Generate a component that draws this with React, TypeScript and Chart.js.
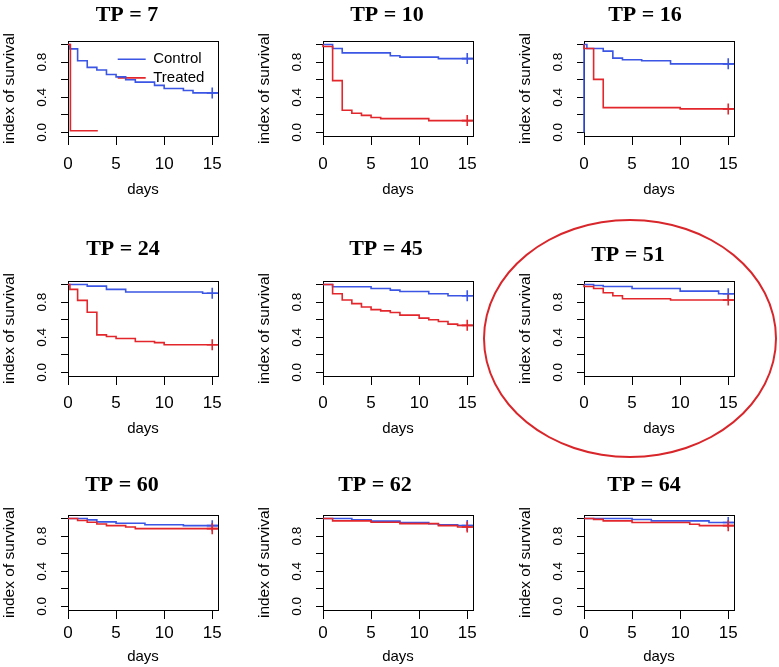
import React, { useEffect, useRef } from "react";
import { Chart, registerables } from "chart.js";

Chart.register(...registerables);

// ---------- data ----------
const PANEL_TITLES = ["TP = 7", "TP = 10", "TP = 16", "TP = 24", "TP = 45", "TP = 51", "TP = 60", "TP = 62", "TP = 64"];
const SERIES_NAMES = ["Control", "Treated"];
const X_TICKS = [0, 5, 10, 15];
const X_TICK_LABELS = ["0", "5", "10", "15"];
const Y_TICKS = [0, 0.2, 0.4, 0.6, 0.8, 1.0];
const Y_TICK_LABELS = ["0.0", "", "0.4", "", "0.8", ""];
const X_LABEL = "days";
const Y_LABEL = "index of survival";
const CENSOR_DAY = 15;

const tp7CtrlDays = [0, 0.2, 1, 2, 3, 4, 5, 6, 7, 9, 10, 12, 13, 15, 16];
const tp7CtrlSurv = [1, 0.95, 0.815, 0.74, 0.71, 0.66, 0.632, 0.6, 0.572, 0.535, 0.5, 0.478, 0.45, 0.45, 0.45];
const tp7TrtDays = [0, 0.25, 3.1];
const tp7TrtSurv = [1, 0.02, 0.02];

const tp10CtrlDays = [0, 1, 2, 7, 8, 12, 15, 16];
const tp10CtrlSurv = [1, 0.955, 0.905, 0.872, 0.857, 0.84, 0.84, 0.84];
const tp10TrtDays = [0, 0, 1, 2, 3, 4, 5, 6, 11, 15, 16];
const tp10TrtSurv = [1, 0.977, 0.59, 0.252, 0.218, 0.195, 0.17, 0.158, 0.135, 0.135, 0.135];

const tp16CtrlDays = [0, 0, 0.3, 2, 3, 4, 6, 9, 15, 16];
const tp16CtrlSurv = [0, 1, 0.955, 0.925, 0.845, 0.826, 0.815, 0.78, 0.78, 0.78];
const tp16TrtDays = [0, 0, 1, 2, 10, 15, 16];
const tp16TrtSurv = [1, 0.955, 0.604, 0.283, 0.268, 0.268, 0.268];

const tp24CtrlDays = [0, 2, 4, 6, 14, 15, 16];
const tp24CtrlSurv = [1, 0.982, 0.945, 0.915, 0.9, 0.9, 0.9];
const tp24TrtDays = [0, 0.2, 1, 2, 3, 4, 5, 7, 9, 10, 15, 16];
const tp24TrtSurv = [1, 0.945, 0.82, 0.685, 0.428, 0.409, 0.387, 0.353, 0.339, 0.316, 0.316, 0.316];

const tp45CtrlDays = [0, 1, 5, 7, 8, 11, 13, 15, 16];
const tp45CtrlSurv = [1, 0.974, 0.955, 0.936, 0.921, 0.895, 0.873, 0.873, 0.873];
const tp45TrtDays = [0, 1, 2, 3, 4, 5, 6, 7, 8, 10, 11, 12, 13, 14, 15, 16];
const tp45TrtSurv = [1, 0.895, 0.824, 0.783, 0.745, 0.715, 0.7, 0.682, 0.652, 0.618, 0.6, 0.58, 0.55, 0.536, 0.536, 0.536];

const tp51CtrlDays = [0, 1, 2, 5, 10, 14, 15, 16];
const tp51CtrlSurv = [1, 0.989, 0.978, 0.955, 0.925, 0.895, 0.895, 0.895];
const tp51TrtDays = [0, 0, 1, 2, 3, 4, 9, 15, 16];
const tp51TrtSurv = [1, 0.978, 0.955, 0.906, 0.873, 0.839, 0.824, 0.824, 0.824];

const tp60CtrlDays = [0, 2, 3, 5, 8, 12, 15, 16];
const tp60CtrlSurv = [1, 0.985, 0.962, 0.946, 0.93, 0.919, 0.919, 0.919];
const tp60TrtDays = [0, 1, 2, 3, 4, 6, 7, 15, 16];
const tp60TrtSurv = [1, 0.977, 0.958, 0.938, 0.919, 0.904, 0.885, 0.885, 0.885];

const tp62CtrlDays = [0, 3, 5, 8, 11, 12, 14, 15, 16];
const tp62CtrlSurv = [1, 0.985, 0.97, 0.955, 0.94, 0.93, 0.92, 0.92, 0.92];
const tp62TrtDays = [0, 1, 5, 8, 12, 14, 15, 16];
const tp62TrtSurv = [1, 0.973, 0.958, 0.942, 0.919, 0.904, 0.904, 0.904];

const tp64CtrlDays = [0, 5, 7, 13, 15, 16];
const tp64CtrlSurv = [1, 0.988, 0.973, 0.954, 0.954, 0.954];
const tp64TrtDays = [0, 1, 2, 5, 11, 12, 15, 16];
const tp64TrtSurv = [1, 0.99, 0.973, 0.954, 0.935, 0.919, 0.919, 0.919];

const CTRL_DAYS = [tp7CtrlDays, tp10CtrlDays, tp16CtrlDays, tp24CtrlDays, tp45CtrlDays, tp51CtrlDays, tp60CtrlDays, tp62CtrlDays, tp64CtrlDays];
const CTRL_SURV = [tp7CtrlSurv, tp10CtrlSurv, tp16CtrlSurv, tp24CtrlSurv, tp45CtrlSurv, tp51CtrlSurv, tp60CtrlSurv, tp62CtrlSurv, tp64CtrlSurv];
const TRT_DAYS = [tp7TrtDays, tp10TrtDays, tp16TrtDays, tp24TrtDays, tp45TrtDays, tp51TrtDays, tp60TrtDays, tp62TrtDays, tp64TrtDays];
const TRT_SURV = [tp7TrtSurv, tp10TrtSurv, tp16TrtSurv, tp24TrtSurv, tp45TrtSurv, tp51TrtSurv, tp60TrtSurv, tp62TrtSurv, tp64TrtSurv];

// ---------- layout / style ----------
const BLUE = "#3b55e4";
const RED = "#e2262b";
const SANS = "'Liberation Sans', Arial, sans-serif";
const SERIF = "'Liberation Serif', 'Times New Roman', serif";
const X_MIN = 0;
const X_MAX = 15.6;
const Y_MIN = -0.04;
const Y_MAX = 1.04;

const BOX_OFFSET_X = 68;
const BOX_OFFSET_Y = 50;
const BOX_W = 150;
const BOX_H = 95;
const X_AXIS_H = 63;
const CANVAS_H = BOX_OFFSET_Y + BOX_H + X_AXIS_H;
const TITLE_SIZE = 22;
const TITLE_LH = 1.2;
const X_TICK_SIZE = 17;
const X_TICK_LEN = 9;
const X_TITLE_SIZE = 15;

const CANVAS_LEFT = [0, 255, 516, 0, 255, 516, 0, 255, 516];
const CANVAS_TOP = [-9, -9, -9, 231, 231, 231, 465, 465, 465];
const TITLE_X = [127, 387, 645, 123, 386, 628, 122, 375, 644];
const TITLE_Y = [15, 15, 15, 249, 249, 255, 485, 485, 485];
// distance below plot box of tick-label centre and of axis-title centre, per panel
const X_LABEL_OFFSET = [28.5, 28.5, 28.5, 27.3, 27.3, 27.3, 23.3, 23.3, 23.3];
const X_TITLE_OFFSET = [54, 54, 54, 53.3, 53.3, 53.3, 47, 47, 47];

const LEGEND_DX = 46;
const LEGEND_DY = 7;

const plotBox = {
  id: "plotBox",
  beforeDatasetsDraw(chart: any) {
    const { ctx, chartArea: a } = chart;
    ctx.save();
    ctx.strokeStyle = "#000";
    ctx.lineWidth = 1;
    ctx.strokeRect(Math.round(a.left) + 0.5, Math.round(a.top) + 0.5, Math.round(a.right - a.left), Math.round(a.bottom - a.top));
    ctx.restore();
  },
};

const legendShift = {
  id: "legendShift",
  afterLayout(chart: any) {
    const lg = chart.legend;
    if (!lg) return;
    const a = chart.chartArea;
    const w = lg.width;
    const h = lg.height;
    lg.left = a.left + LEGEND_DX;
    lg.right = lg.left + w;
    lg.top = a.top + LEGEND_DY;
    lg.bottom = lg.top + h;
    // draw the legend above the curves, as R does
    lg._layers = () => [{ z: 1, draw: (ca: any) => lg.draw(ca) }];
  },
};

function makeSeries(label: string, days: number[], surv: number[], color: string, order: number) {
  return {
    label,
    data: days.map((d, i) => ({ x: d, y: surv[i] })),
    borderColor: color,
    backgroundColor: color,
    borderWidth: 1.6,
    stepped: "before" as const,
    fill: false,
    tension: 0,
    clip: { left: 1, top: 1, right: 0, bottom: 1 },
    pointStyle: "cross" as const,
    pointRadius: days.map((d) => (d === CENSOR_DAY ? 5.5 : 0)),
    pointBorderColor: color,
    pointBorderWidth: 1.6,
    pointHoverRadius: 0,
    order,
  };
}

function Panel({ idx }: { idx: number }) {
  const ref = useRef<HTMLCanvasElement>(null);
  const left = CANVAS_LEFT[idx];
  const top = CANVAS_TOP[idx];
  const width = Math.round(2 * (TITLE_X[idx] - left));
  const rightW = width - BOX_OFFSET_X - BOX_W;

  useEffect(() => {
    const canvas = ref.current!;
    const titleLocal = TITLE_Y[idx] - top;
    const lh = TITLE_SIZE * TITLE_LH;
    const padTop = titleLocal - lh / 2;
    const padBottom = BOX_OFFSET_Y - padTop - lh;
    const xTickPad = X_LABEL_OFFSET[idx] - X_TICK_LEN - (X_TICK_SIZE * 1.2) / 2;
    const xTitlePad = X_AXIS_H - (X_TITLE_SIZE * 1.2) / 2 - X_TITLE_OFFSET[idx];
    const zeroPad = (s: any) => {
      s.paddingLeft = 0;
      s.paddingRight = 0;
      s.paddingTop = 0;
      s.paddingBottom = 0;
    };
    const chart = new Chart(canvas, {
      type: "line",
      data: {
        datasets: [
          makeSeries(SERIES_NAMES[0], CTRL_DAYS[idx], CTRL_SURV[idx], BLUE, 1),
          makeSeries(SERIES_NAMES[1], TRT_DAYS[idx], TRT_SURV[idx], RED, 0),
        ],
      },
      options: {
        animation: false,
        responsive: false,
        devicePixelRatio: 1,
        events: [],
        layout: { padding: 0, autoPadding: false },
        scales: {
          x: {
            type: "linear",
            min: X_MIN,
            max: X_MAX,
            afterBuildTicks: (s: any) => {
              s.ticks = X_TICKS.map((v) => ({ value: v }));
            },
            afterFit: (s: any) => {
              s.height = X_AXIS_H;
              zeroPad(s);
            },
            ticks: {
              callback: (_v: any, i: number) => X_TICK_LABELS[i],
              autoSkip: false,
              maxRotation: 0,
              minRotation: 0,
              padding: xTickPad,
              color: "#000",
              font: { family: SANS, size: X_TICK_SIZE },
            },
            grid: { display: true, drawOnChartArea: false, drawTicks: true, tickLength: X_TICK_LEN, color: "#000", lineWidth: 1 },
            border: { display: false },
            title: {
              display: true,
              text: X_LABEL,
              color: "#000",
              font: { family: SANS, size: X_TITLE_SIZE },
              padding: { top: 0, bottom: xTitlePad },
            },
          },
          y: {
            type: "linear",
            position: "left",
            min: Y_MIN,
            max: Y_MAX,
            afterBuildTicks: (s: any) => {
              s.ticks = Y_TICKS.map((v) => ({ value: v }));
            },
            afterFit: (s: any) => {
              s.width = BOX_OFFSET_X;
              zeroPad(s);
            },
            ticks: {
              callback: (_v: any, i: number) => Y_TICK_LABELS[i],
              autoSkip: false,
              minRotation: 90,
              maxRotation: 90,
              crossAlign: "center",
              padding: 9.5,
              color: "#000",
              font: { family: SANS, size: 13.5 },
            },
            grid: { display: true, drawOnChartArea: false, drawTicks: true, tickLength: 7, color: "#000", lineWidth: 1 },
            border: { display: false },
            title: { display: true, text: Y_LABEL, color: "#000", font: { family: SANS, size: 15.5 }, padding: { top: 0, bottom: 0 } },
          },
          yR: {
            type: "linear",
            position: "right",
            display: true,
            ticks: { display: false },
            grid: { display: false },
            border: { display: false },
            afterFit: (s: any) => {
              s.width = rightW;
              zeroPad(s);
            },
          },
        },
        plugins: {
          title: {
            display: true,
            text: PANEL_TITLES[idx],
            color: "#000",
            font: { family: SERIF, size: TITLE_SIZE, weight: "bold", lineHeight: TITLE_LH },
            padding: { top: padTop, bottom: padBottom },
          },
          legend:
            idx === 0
              ? {
                  display: true,
                  position: "chartArea",
                  align: "start",
                  labels: {
                    usePointStyle: true,
                    pointStyle: "line",
                    pointStyleWidth: 28,
                    boxHeight: 15,
                    padding: 3.7,
                    color: "#000",
                    font: { family: SANS, size: 15 },
                    sort: (a: any, b: any) => a.datasetIndex - b.datasetIndex,
                  },
                }
              : { display: false },
          tooltip: { enabled: false },
        },
      } as any,
      plugins: idx === 0 ? [plotBox, legendShift] : [plotBox],
    });
    return () => chart.destroy();
  }, []);

  return (
    <canvas
      ref={ref}
      width={width}
      height={CANVAS_H}
      style={{ position: "absolute", left, top, width, height: CANVAS_H }}
    />
  );
}

export default function App() {
  return (
    <div style={{ position: "fixed", left: 0, top: 0, width: 779, height: 667, overflow: "hidden", background: "#fff" }}>
      {PANEL_TITLES.map((_, i) => (
        <Panel key={i} idx={i} />
      ))}
      <div
        style={{
          position: "absolute",
          left: 483,
          top: 219,
          width: 294,
          height: 239,
          boxSizing: "border-box",
          border: "2px solid #d8262b",
          borderRadius: "50%",
          pointerEvents: "none",
        }}
      />
    </div>
  );
}
